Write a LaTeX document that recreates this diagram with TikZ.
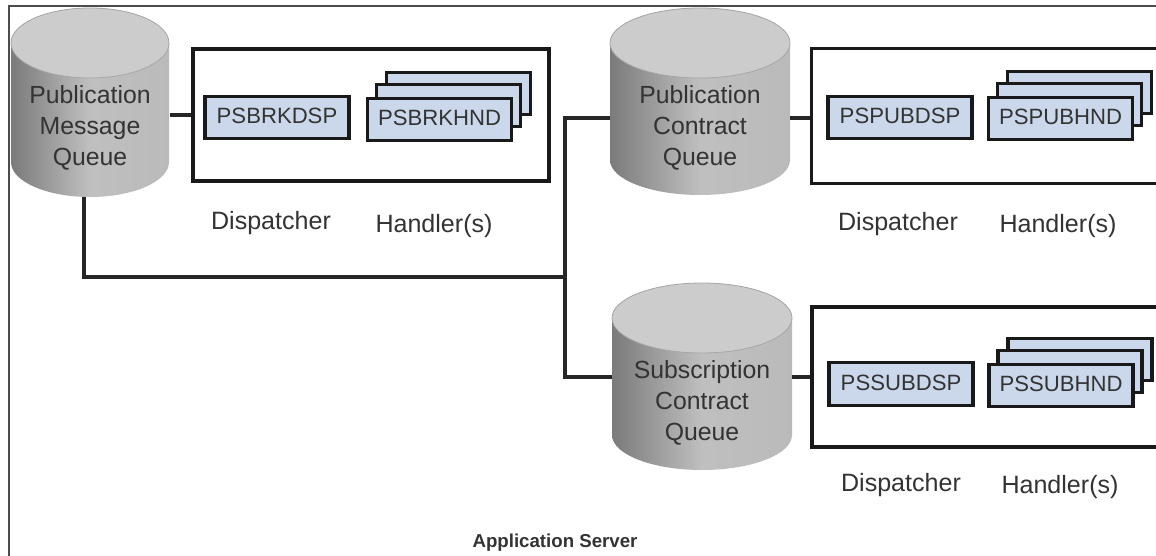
\documentclass[tikz,border=0pt]{standalone}
\usepackage{fontspec}
\setmainfont{Liberation Sans}
\usepackage{tikz}

\definecolor{procblue}{HTML}{CBD8EC}
\definecolor{inkgray}{HTML}{333333}

\tikzset{
  link/.style={line width=2.4pt,black!85},
  groupbox/.style={draw=black!90,line width=2.4pt,fill=white,inner sep=0pt},
  procbox/.style={draw=black!90,line width=2.4pt,fill=procblue,inner sep=0pt,
    minimum width=108pt,minimum height=32pt,text height=12pt,text depth=3pt,
    text=inkgray,font=\fontsize{16.6}{20}\selectfont},
  queuebody/.style={left color=black!52,right color=black!27,middle color=black!25},
  queuetop/.style={fill=black!20,draw=black!35,line width=0.6pt},
  queuetext/.style={align=center,inner sep=0pt,text=inkgray,font=\fontsize{18.6}{23.2}\selectfont},
  caption/.style={inner sep=0pt,text=inkgray,font=\fontsize{18.8}{23}\selectfont},
}

% name, centre x, top y, radius x, full height, text
\newcommand{\queue}[6]{
  \shade[queuebody] (#2-#4,#3+35) -- (#2-#4,#3+#5-35)
    arc[start angle=180,end angle=0,x radius=#4,y radius=35]
    -- (#2+#4,#3+35)
    arc[start angle=0,end angle=-180,x radius=#4,y radius=35] -- cycle;
  \draw[queuetop] (#2,#3+35) ellipse [x radius=#4,y radius=35];
  \node[queuetext] (#1) at (#2,#3+120) {#6};
}
% name, front x, front y, text
\newcommand{\handlers}[4]{
  \foreach \dx/\dy in {19/-26,9/-14} {
    \node[procbox] (#1\dx) at (#2+\dx,#3+\dy) {};
  }
  \node[procbox] (#1) at (#2,#3) {#4};
}

\begin{document}
\begin{tikzpicture}[x=0.75pt,y=-0.75pt]
  \path[use as bounding box,clip] (0,0) rectangle (1156,556);
  \fill[white] (0,0) rectangle (1156,556);

  % frame
  \coordinate (framebot) at (9,556);
  \coordinate (framecorner) at (9,6);
  \coordinate (frameright) at (1156,6);
  \draw[black!70,line width=0.8pt] (framebot) -- (framecorner) -- (frameright);

  % queues
  \queue{pmq}{90}{8}{79}{189}{Publication\\Message\\Queue}
  \queue{pcq}{700}{8}{90}{187}{Publication\\Contract\\Queue}
  \queue{scq}{702}{283}{90}{187}{Subscription\\Contract\\Queue}

  % group boxes
  \node[groupbox,minimum width=267pt,minimum height=99pt] (brkbox) at (371,115) {};
  \node[groupbox,minimum width=300pt,minimum height=101pt] (pubbox) at (1011.5,116) {};
  \node[groupbox,minimum width=300pt,minimum height=105pt] (subbox) at (1012,377) {};

  % dispatchers
  \node[procbox] (brkdsp) at (277,117.5) {PSBRKDSP};
  \node[procbox] (pubdsp) at (900,117.5) {PSPUBDSP};
  \node[procbox] (subdsp) at (901,384) {PSSUBDSP};

  % handlers
  \handlers{brkhnd}{439.5}{119.5}{PSBRKHND}
  \handlers{pubhnd}{1060.5}{118.5}{PSPUBHND}
  \handlers{subhnd}{1061}{385.5}{PSSUBHND}

  % connectors
  \coordinate (pmqdown) at (84,197);
  \coordinate (trunktop) at (565,118);
  \coordinate (trunkmid) at (565,277);
  \coordinate (trunkbot) at (565,377);
  \coordinate (pcqleft) at (610,118);
  \coordinate (pcqright) at (790,118);
  \coordinate (scqleft) at (612,377);
  \coordinate (scqright) at (792,377);
  \coordinate (pmqright) at (170,115);
  \draw[link] (pmqright) -- (brkbox.west);
  \draw[link] (pmqdown) |- (trunkmid);
  \draw[link] (pcqleft) -- (trunktop) -- (trunkbot) -- (scqleft);
  \draw[link] (pcqright) -- (trunktop -| pubbox.west);
  \draw[link] (scqright) -- (subbox.west);

  % captions
  \node[caption] (brkdsplabel) at (271,223) {Dispatcher};
  \node[caption] (brkhndlabel) at (434,226) {Handler(s)};
  \node[caption] (pubdsplabel) at (898,224) {Dispatcher};
  \node[caption] (pubhndlabel) at (1058,226) {Handler(s)};
  \node[caption] (subdsplabel) at (901,485) {Dispatcher};
  \node[caption] (subhndlabel) at (1060,487) {Handler(s)};
  \node[inner sep=0pt,text=inkgray,font=\fontsize{14}{17}\selectfont\bfseries] (server) at (555,543) {Application Server};
\end{tikzpicture}
\end{document}
